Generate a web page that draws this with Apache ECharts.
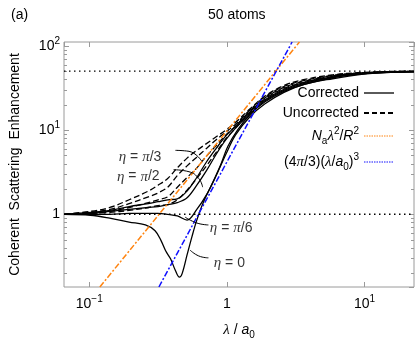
<!DOCTYPE html>
<html>
<head>
<meta charset="utf-8">
<script src="https://cdn.jsdelivr.net/npm/echarts@6/dist/echarts.min.js"></script>
<style>
  html, body { margin: 0; padding: 0; background: #fff; }
  #chart { width: 420px; height: 345px; }
</style>
</head>
<body>
<div id="chart"></div>
<script>
// λ / a0 sample points shared by most η curves
const lam = [0.066, 0.102, 0.141, 0.195, 0.269, 0.316, 0.372, 0.437, 0.514, 0.605, 0.711, 0.837, 0.984, 1.157, 1.476, 1.883, 2.6, 3.6, 5.86, 9.53, 15.5, 22.9];

// corrected (solid)
const corrPi6 = [1.0, 1.0, 1.0, 1.027, 1.027, 1.027, 1.0, 0.955, 0.853, 1.142, 1.698, 2.883, 5.161, 8.758, 14.49, 20.43, 28.07, 34.69, 40.66, 45.8, 48.3, 49.2];
const corrPi2 = [1.0, 1.027, 1.083, 1.142, 1.204, 1.236, 1.303, 1.374, 1.568, 2.212, 3.29, 5.161, 7.676, 10.54, 15.68, 22.12, 29.6, 35.62, 42.31, 46.42, 48.68, 49.33];
const corrPi3 = [1.0, 1.054, 1.112, 1.236, 1.338, 1.411, 1.487, 1.527, 1.887, 2.734, 4.176, 6.047, 8.531, 11.12, 16.54, 22.71, 30.39, 36.58, 42.87, 47.03, 48.94, 49.46];

// η = 0 has its own sampling because of the dip
const lamEta0 = [0.066, 0.102, 0.141, 0.195, 0.256, 0.301, 0.332, 0.36, 0.39, 0.423, 0.452, 0.474, 0.514, 0.558, 0.605, 0.678, 0.797, 0.907, 1.016, 1.195, 1.476, 1.883, 2.6, 3.6, 5.86, 9.53, 15.5, 22.9];
const corrEta0 = [1.0, 0.974, 0.899, 0.809, 0.747, 0.638, 0.49, 0.366, 0.296, 0.215, 0.179, 0.199, 0.329, 0.544, 0.853, 1.411, 2.46, 3.961, 6.376, 10.0, 15.27, 21.54, 28.83, 34.69, 41.75, 46.42, 48.94, 49.46];

// uncorrected (dashed)
const uncorrA = [1.0, 1.083, 1.204, 1.487, 1.887, 2.212, 2.663, 3.562, 4.642, 5.737, 6.904, 8.308, 10.0, 12.36, 17.9, 25.25, 33.79, 39.6, 45.2, 48.3, 49.59, 49.98];
const uncorrB = [1.0, 1.054, 1.142, 1.338, 1.61, 1.79, 2.098, 2.883, 3.756, 4.766, 6.047, 7.676, 9.485, 11.72, 17.43, 24.59, 32.9, 38.57, 44.61, 47.66, 49.33, 49.85];
const uncorrC = [1.0, 1.027, 1.083, 1.204, 1.374, 1.487, 1.61, 2.098, 2.734, 3.562, 4.894, 6.548, 8.758, 11.12, 16.98, 23.95, 32.04, 37.56, 44.02, 47.66, 49.2, 49.72];
const uncorrD = [1.0, 1.027, 1.054, 1.112, 1.204, 1.269, 1.303, 1.487, 1.938, 2.663, 3.756, 5.44, 7.882, 10.54, 16.1, 23.32, 31.21, 36.58, 43.44, 47.03, 48.94, 49.59];

// straight reference lines (end points)
const naX = [0.1195, 3.37];
const naY = [0.137, 111];
const volX = [0.321, 2.98];
const volY = [0.137, 111];

// axis ranges
const xMin = 0.0656, xMax = 22.9;
const yMin = 0.137, yMax = 111;
const yMinorTicks = [0.2, 0.3, 0.4, 0.5, 0.6, 0.7, 0.8, 0.9, 2, 3, 4, 5, 6, 7, 8, 9, 20, 30, 40, 50, 60, 70, 80, 90];

// annotation labels and leader lines
const annText = ['{gr|η}{n| = }{gr|π}{n|/3}', '{gr|η}{n| = }{gr|π}{n|/2}', '{gr|η}{n| = }{gr|π}{n|/6}', '{gr|η}{n| = 0}'];
const annX = [0.34, 0.33, 0.74, 0.79];
const annY = [4.8, 2.8, 0.69, 0.266];
const annSide = ['left', 'left', 'right', 'right'];
const leaders = [
  [[0.423, 5.74], [0.531, 5.59], [0.656, 4.29]],
  [[0.41, 3.38], [0.531, 3.2], [0.625, 2.66], [0.667, 2.1]],
  [[0.735, 0.747], [0.605, 0.788], [0.498, 0.924]],
  [[0.735, 0.304], [0.625, 0.32], [0.54, 0.376]]
];

const FONT = '"Liberation Sans", Arial, sans-serif';
const SERIF = '"Liberation Serif", "DejaVu Serif", serif';

const rich = {
  n: { fontFamily: FONT, fontSize: 14, lineHeight: 20, color: '#000' },
  it: { fontFamily: FONT, fontSize: 14, lineHeight: 20, fontStyle: 'italic', color: '#000' },
  gr: { fontFamily: SERIF, fontSize: 15, lineHeight: 20, fontStyle: 'italic', color: '#000' },
  sup: { fontFamily: FONT, fontSize: 10, lineHeight: 12, verticalAlign: 'top', color: '#000' },
  sub: { fontFamily: FONT, fontSize: 10, lineHeight: 12, verticalAlign: 'bottom', color: '#000' }
};

const legendLabels = {
  'Corrected': '{n|Corrected}',
  'Uncorrected': '{n|Uncorrected}',
  'Na': '{it|N}{sub|a}{gr|λ}{sup|2}{n|/}{it|R}{sup|2}',
  'Vol': '{n|(4}{gr|π}{n|/3)(}{gr|λ}{n|/}{it|a}{sub|0}{n|)}{sup|3}'
};

// 10^k tick labels
const powLabel = (v) => {
  const k = Math.round(Math.log10(v));
  if (Math.abs(Math.log10(v) - k) > 1e-6) return '';
  if (k === 0) return '{n|1}';
  return '{n|10}{sup|' + (k < 0 ? '\u2212' + (-k) : k) + '}';
};

const pairs = (xs, ys) => xs.map((x, i) => [x, ys[i]]);

const solid = (data) => ({
  name: 'Corrected', type: 'line', data, symbol: 'none', smooth: 0.35,
  lineStyle: { color: '#000', width: 1.3 }, itemStyle: { color: '#000' }, z: 3
});
const dashed = (data) => ({
  name: 'Uncorrected', type: 'line', data, symbol: 'none', smooth: 0.35,
  lineStyle: { color: '#000', width: 1.3, type: [6, 3] }, itemStyle: { color: '#000' }, z: 3
});

const series = [
  // dotted guides at 1 and 50
  { type: 'line', data: [[xMin, 1], [xMax, 1]], symbol: 'none', silent: true,
    lineStyle: { color: '#000', width: 1.4, type: [1.5, 3.5] }, z: 2 },
  { type: 'line', data: [[xMin, 50], [xMax, 50]], symbol: 'none', silent: true,
    lineStyle: { color: '#000', width: 1.4, type: [1.5, 3.5] }, z: 2 },

  dashed(pairs(lam, uncorrA)),
  dashed(pairs(lam, uncorrB)),
  dashed(pairs(lam, uncorrC)),
  dashed(pairs(lam, uncorrD)),
  solid(pairs(lam, corrPi3)),
  solid(pairs(lam, corrPi2)),
  solid(pairs(lam, corrPi6)),
  solid(pairs(lamEta0, corrEta0)),

  { name: 'Na', type: 'line', data: pairs(naX, naY), symbol: 'none',
    lineStyle: { color: '#ff8410', width: 1.5, type: [6, 2, 2, 2] }, itemStyle: { color: '#ff8410' }, z: 4 },
  { name: 'Vol', type: 'line', data: pairs(volX, volY), symbol: 'none',
    lineStyle: { color: '#1010ff', width: 1.5, type: [6, 2, 2, 2] }, itemStyle: { color: '#1010ff' }, z: 4 },

  // leader lines for the η labels
  ...leaders.map(l => ({
    type: 'line', data: l, symbol: 'none', smooth: 0.5, silent: true,
    lineStyle: { color: '#000', width: 1 }, z: 5
  })),

  // η labels
  {
    type: 'scatter', symbolSize: 0, silent: true, z: 6,
    data: annX.map((x, i) => ({
      value: [x, annY[i]],
      label: { show: true, position: annSide[i], distance: 1, formatter: annText[i], rich }
    }))
  },

  // minor ticks on left and right borders
  {
    type: 'custom', silent: true, z: 1,
    data: yMinorTicks.map(v => [1, v]),
    renderItem: (params, api) => {
      const cs = params.coordSys;
      const y = Math.round(api.coord([1, api.value(1)])[1]) + 0.5;
      const st = { stroke: '#9a9a9a', lineWidth: 1 };
      return {
        type: 'group', children: [
          { type: 'line', shape: { x1: cs.x, y1: y, x2: cs.x + 3, y2: y }, style: st },
          { type: 'line', shape: { x1: cs.x + cs.width - 3, y1: y, x2: cs.x + cs.width, y2: y }, style: st }
        ]
      };
    }
  }
];

const tickStyle = { show: true, inside: true, length: 5, lineStyle: { color: '#9a9a9a', width: 1 } };
const noSymbol = { opacity: 0, borderWidth: 0 };

const option = {
  animation: false,
  backgroundColor: '#fff',
  textStyle: { fontFamily: FONT },
  title: [
    { text: '(a)', left: 6, top: 3, textStyle: { fontFamily: FONT, fontSize: 14, fontWeight: 'normal', color: '#000' } },
    { text: '50 atoms', left: 203, top: 3, textStyle: { fontFamily: FONT, fontSize: 14, fontWeight: 'normal', color: '#000' } }
  ],
  grid: { left: 53, right: 6, top: 42, bottom: 50, show: true, borderColor: '#9a9a9a', borderWidth: 1, backgroundColor: 'transparent' },
  legend: {
    orient: 'vertical', right: 20, top: 81, align: 'right',
    itemWidth: 30, itemHeight: 10, itemGap: 6,
    selectedMode: false,
    textStyle: { fontFamily: FONT, fontSize: 14, color: '#000', rich },
    formatter: (name) => legendLabels[name],
    data: [
      { name: 'Corrected', lineStyle: { width: 1.3 }, itemStyle: noSymbol },
      { name: 'Uncorrected', lineStyle: { width: 2, type: [5, 3] }, itemStyle: noSymbol },
      { name: 'Na', lineStyle: { width: 1, type: [1.5, 1] }, itemStyle: noSymbol },
      { name: 'Vol', lineStyle: { width: 1, type: [1.5, 1] }, itemStyle: noSymbol }
    ]
  },
  xAxis: [
    {
      type: 'log', min: xMin, max: xMax, logBase: 10,
      axisLine: { show: false }, axisTick: tickStyle, splitLine: { show: false },
      axisLabel: { margin: 7, formatter: powLabel, rich, showMinLabel: false, showMaxLabel: false },
      name: '{gr|λ}{n| / }{it|a}{sub|0}', nameLocation: 'middle', nameGap: 33,
      nameTextStyle: { rich }
    },
    {
      type: 'log', position: 'top', min: xMin, max: xMax, logBase: 10,
      axisLine: { show: false }, axisTick: tickStyle, splitLine: { show: false }, axisLabel: { show: false }
    }
  ],
  yAxis: [
    {
      type: 'log', min: yMin, max: yMax, logBase: 10,
      axisLine: { show: false }, axisTick: tickStyle, splitLine: { show: false },
      axisLabel: { margin: 4, formatter: powLabel, rich, showMinLabel: false, showMaxLabel: false },
      name: 'Coherent  Scattering  Enhancement', nameLocation: 'middle', nameGap: 42, nameRotate: 90,
      nameTextStyle: { fontFamily: FONT, fontSize: 14, color: '#000' }
    },
    {
      type: 'log', position: 'right', min: yMin, max: yMax, logBase: 10,
      axisLine: { show: false }, axisTick: tickStyle, splitLine: { show: false }, axisLabel: { show: false }
    }
  ],
  series
};

const chart = echarts.init(document.getElementById('chart'), null, { renderer: 'canvas' });
chart.setOption(option);
</script>
</body>
</html>
